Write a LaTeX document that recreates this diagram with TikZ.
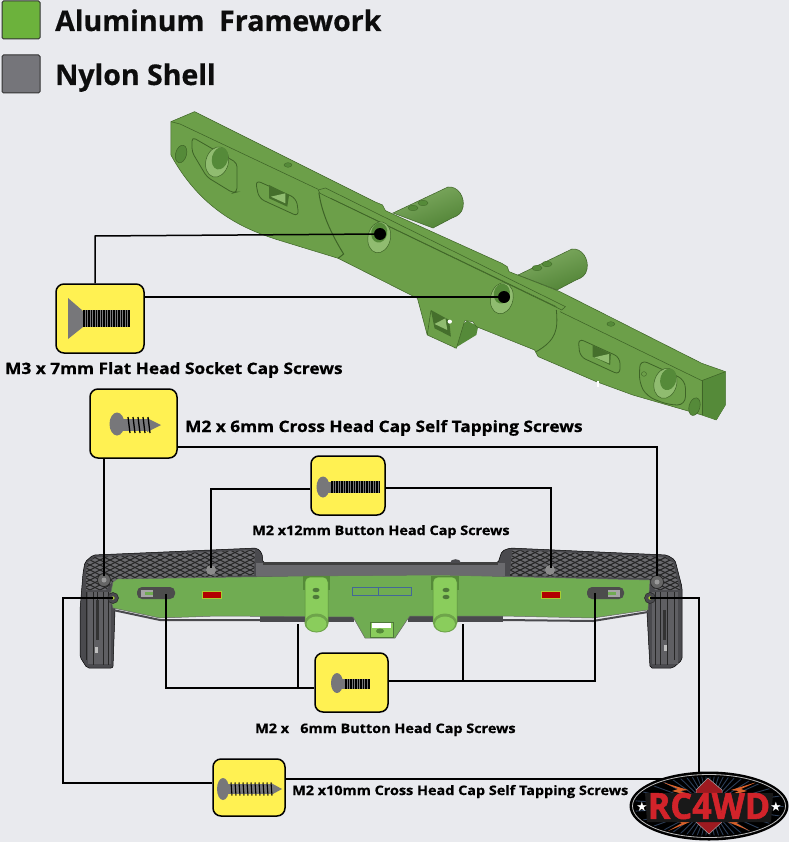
\documentclass[tikz,border=0pt]{standalone}
\usepackage{fontspec}
\setmainfont{Open Sans}
\newfontfamily\starfont{DejaVu Sans}
\newfontfamily\blk[BoldFeatures={FakeBold=0.7,FakeStretch=1.1}]{Open Sans}
\newfontfamily\blkt[BoldFeatures={FakeBold=0.5}]{Open Sans}
\newfontfamily\logofont[BoldFeatures={FakeBold=1.5,FakeStretch=0.95}]{Open Sans}
\definecolor{bg}{HTML}{E9EAEE}
\definecolor{legendgreen}{HTML}{6CB23C}
\definecolor{legendgray}{HTML}{75757A}
\definecolor{beam}{HTML}{6C9F49}
\definecolor{beamdark}{HTML}{558A39}
\definecolor{beamdeep}{HTML}{456F2C}
\definecolor{beamline}{HTML}{3E6427}
\definecolor{beamlight}{HTML}{90BC70}
\definecolor{bar}{HTML}{70AC52}
\definecolor{peg}{HTML}{8ACD5C}
\definecolor{shell}{HTML}{4A4A4E}
\definecolor{shellmid}{HTML}{6A6A6E}
\definecolor{tagfill}{HTML}{FFF152}
\definecolor{screwgray}{HTML}{77777A}
\definecolor{logored}{HTML}{D2232A}
\definecolor{bolt}{HTML}{D9622B}
\definecolor{ray}{HTML}{2C3E58}
\usetikzlibrary{calc}
\tikzset{
  tagbox/.style={draw=black,line width=1.5pt,fill=tagfill,rounded corners=8pt,inner sep=0pt,minimum width=#1},
  legendbox/.style={draw=black!80,line width=1pt,rounded corners=1.5pt,minimum width=38pt,minimum height=38pt,inner sep=0pt},
  lead/.style={draw=black,line width=1.5pt},
  title/.style={font=\fontsize{28.5}{30}\selectfont\blkt\bfseries,anchor=base west,inner sep=0pt,text=black!95},
  lab/.style={font=\fontsize{15.7}{17}\selectfont\blk\bfseries,anchor=base west,inner sep=0pt,text=black},
  labsmall/.style={font=\fontsize{13.1}{15}\selectfont\blk\bfseries,anchor=base west,inner sep=0pt,text=black},
  eline/.style={draw=beamline,line width=0.55pt},
  thread/.style={draw=black,line width=1.25pt},
  legline/.style={draw=black!85,line width=0.7pt},
  holeedge/.style={draw=beamline,line width=0.5pt},
  pegbody/.style={draw=beamline,line width=0.5pt,top color=beam!85!white,bottom color=beamdark!75!beamdeep,shading angle=20},
  hatchline/.style={draw=black!85,line width=1.1pt},
  boltfill/.style={fill=bolt}
}
\begin{document}
\begin{tikzpicture}[x=1pt,y=-1pt]
\useasboundingbox (0,0) rectangle (789,842);
\fill[bg] (0,0) rectangle (789,842);

% legend
\node[legendbox,fill=legendgreen] (lg1) at (21,20) {};
\node[legendbox,fill=legendgray] (lg2) at (21,74) {};
\node[title] (lt1) at (55,31) {Aluminum\ \ Framework};
\node[title] (lt2) at (55,85) {Nylon Shell};

% pegs of top beam
\path[pegbody] (393,213) -- (448,187) .. controls (458,186) and (465,197) .. (463,207) .. controls (462,213) and (458,216) .. (452,218) -- (433,228) -- cycle;
\path[pegbody] (518,275) -- (572,249) .. controls (582,248) and (589,259) .. (587,269) .. controls (586,275) and (582,278) .. (576,280) -- (557,290) -- cycle;
\fill[beamdark,draw=beamline,line width=0.3pt] (413,208) ellipse [x radius=5,y radius=2.8];
\fill[beamdark,draw=beamline,line width=0.3pt] (423,203) ellipse [x radius=5,y radius=2.8];
\fill[beamdark,draw=beamline,line width=0.3pt] (537,268) ellipse [x radius=5,y radius=2.8];
\fill[beamdark,draw=beamline,line width=0.3pt] (547,264) ellipse [x radius=5,y radius=2.8];

% top beam, in zoom coordinates
\begin{scope}[shift={(160,100)},x=0.3636pt,y=-0.3333pt]
  \fill[beamdark] (810,745) -- (870,705) -- (875,680) -- (845,662) -- (800,700) -- cycle;
  \path[fill=beam,draw=beamline,line width=0.5pt,line join=round]
    (30,65) -- (95,35) -- (590,305) -- (612,315) -- (620,332) -- (940,490) -- (955,500) -- (960,515)
    -- (1100,575) -- (1490,790) -- (1555,815) -- (1555,915) -- (1530,960) -- (1490,945) -- (1300,885)
    -- (1200,845) -- (1040,770) -- (1030,750) -- (870,680) -- (860,665) -- (838,662) -- (815,745)
    -- (735,705) -- (708,595) -- (490,475) -- (340,425)
    .. controls (250,395) and (120,345) .. (30,165) -- cycle;
  \fill[beamdark] (1490,842) -- (1555,815) -- (1555,915) -- (1530,960) -- (1490,945) -- cycle;
  \draw[eline] (1490,842) -- (1555,815);
  \draw[eline] (1490,842) -- (1490,945);
  \draw[eline] (30,65) -- (55,72) -- (435,268);
  \draw[eline] (435,270) -- (455,264) -- (1115,620) -- (1105,630) -- (440,280) -- (435,270);
  \draw[eline] (470,295) -- (1090,620);
  \draw[eline] (1100,635) -- (1490,842);
  \draw[eline,line width=1pt] (437,278) .. controls (445,340) and (470,400) .. (505,462) -- (490,475);
  \draw[eline,line width=0.8pt] (1090,630) .. controls (1095,690) and (1090,720) .. (1035,755);
  % left details
  \draw[eline,line width=0.8pt,rounded corners=4pt] (88,111) -- (212,189) -- (212,276) -- (201,279) -- (129,231) -- (88,156) -- cycle;
  \fill[beamlight,holeedge] (157,186) ellipse [x radius=31,y radius=46,rotate=-15];
  \fill[beamdark] (165,175) ellipse [x radius=22,y radius=34,rotate=-15];
  \fill[beamdark,holeedge] (58,162) ellipse [x radius=15,y radius=27,rotate=-15];
  \draw[eline,line width=0.8pt,rounded corners=6pt] (262,240) -- (375,295) -- (382,350) -- (272,295) -- cycle;
  \fill[beamdeep] (300,255) -- (355,285) -- (350,320) -- (300,295) -- cycle;
  \fill[beamlight] (305,290) -- (345,280) -- (345,310) -- cycle;
  \fill[beamdark,draw=beamline,line width=0.3pt] (352,195) ellipse [x radius=11,y radius=7];
  % middle holes
  \fill[beamlight,holeedge] (603,412) ellipse [x radius=31,y radius=47,rotate=-12];
  \fill[beamdark] (603,398) ellipse [x radius=22,y radius=30,rotate=-12];
  \fill[beamlight,holeedge] (940,595) ellipse [x radius=31,y radius=47,rotate=-12];
  \fill[beamdark] (940,581) ellipse [x radius=22,y radius=30,rotate=-12];
  % foot pocket
  \fill[beamdeep] (745,630) -- (795,660) -- (800,710) -- (755,685) -- cycle;
  \fill[beamlight] (755,672) -- (785,655) -- (790,690) -- cycle;
  \draw[eline] (745,632) -- (735,705);
  \fill[white] (797,665) circle (6);
  % right details
  \draw[eline,line width=0.8pt,rounded corners=6pt] (1150,715) -- (1265,772) -- (1265,825) -- (1155,770) -- cycle;
  \fill[beamdeep] (1190,735) -- (1240,762) -- (1238,795) -- (1190,770) -- cycle;
  \fill[beamlight] (1195,772) -- (1235,762) -- (1235,790) -- cycle;
  \draw[eline,line width=0.8pt,rounded corners=8pt] (1320,778) -- (1445,840) -- (1445,915) -- (1400,915) -- (1340,890) -- (1318,850) -- cycle;
  \fill[beamlight,holeedge] (1390,850) ellipse [x radius=31,y radius=46,rotate=-15];
  \fill[beamdark] (1398,838) ellipse [x radius=22,y radius=33,rotate=-15];
  \fill[beamdark,holeedge] (1470,920) ellipse [x radius=15,y radius=27,rotate=-15];
  \fill[beamdark,draw=beamline,line width=0.3pt] (1240,672) ellipse [x radius=11,y radius=7];
  \draw[beamline,line width=0.4pt] (1331,822) circle (7);
  \fill[white] (1203,843) rectangle (1207,862);
\end{scope}

% shell
\path[fill=shell,draw=black,line width=0.5pt,rounded corners=2pt]
  (83,573) -- (85,562) -- (93,555) -- (257,548) -- (262,553) -- (263,563) -- (498,563) -- (502,551)
  -- (510,548) -- (667,555) -- (675,560) -- (682,587) -- (682,660) -- (673,668) -- (650,668)
  -- (647,613) -- (650,590) -- (113,590) -- (115,610) -- (113,668) -- (87,668) -- (80,657) -- (80,610) -- cycle;
\begin{scope}
  \clip (86,573) -- (87,563) -- (95,557) -- (255,550) -- (254,575) -- (112,582) -- (106,590) -- (86,590) -- cycle;
  \fill[shellmid] (80,545) rectangle (260,595);
  \foreach \k in {-20,-10,...,380} {
    \draw[hatchline] (\k,590) -- (\k+100,540);
    \draw[hatchline] (\k-100,540) -- (\k,590);
  }
\end{scope}
\begin{scope}
  \clip (512,550) -- (665,557) -- (673,562) -- (680,590) -- (655,590) -- (648,578) -- (510,576) -- cycle;
  \fill[shellmid] (505,545) rectangle (685,595);
  \foreach \k in {420,430,...,800} {
    \draw[hatchline] (\k,590) -- (\k+100,540);
    \draw[hatchline] (\k-100,540) -- (\k,590);
  }
\end{scope}
\fill[shellmid] (256,563) rectangle (505,576);
\fill[black!75] (263,562) rectangle (498,564.5);
\fill[shell] (450,563) .. controls (450,558) and (461,558) .. (461,563) -- cycle;
% legs
\fill[shellmid!90!black] (88,592) rectangle (111,664);
\draw[legline] (86,592) -- (86,660) (93,592) -- (93,665) (97,592) -- (97,640) (103,592) -- (103,665) (108,592) -- (108,665);
\fill[black!80] (96,600) rectangle (99,640);
\fill[black!25] (95,647) rectangle (98,653);
\fill[shellmid!90!black] (652,592) rectangle (678,664);
\draw[legline] (655,592) -- (655,665) (660,592) -- (660,665) (667,592) -- (667,665) (674,592) -- (674,660);
\fill[black!80] (663,610) rectangle (666,640);
\fill[black!25] (664,645) rectangle (667,651);
% bosses
\fill[black!60,draw=black!85,line width=0.7pt] (104,580) circle (6.5);
\fill[black!40] (104,580) circle (2.5);
\fill[black!60,draw=black!85,line width=0.7pt] (657,582) circle (6.5);
\fill[black!40] (657,582) circle (2.5);
\fill[black!45] (211,570) circle (5);
\fill[black!45] (550,570) circle (5);

% lower strips
\fill[shell] (260,616) rectangle (354,622);
\fill[shell] (408,616) rectangle (503,622);
\draw[shell,line width=2pt] (113,610) -- (160,620) -- (217,620) -- (353,620);
\draw[shell,line width=2pt] (503,620) -- (593,621) -- (648,612);
% green bar
\path[fill=bar,draw=black!60,line width=0.5pt]
  (113,582) -- (117,579) -- (303,576) -- (440,575) -- (650,580) -- (648,610) -- (593,618) -- (503,616)
  -- (410,616) -- (407,620) -- (395,638) -- (365,638) -- (353,617) -- (217,616) -- (160,618) -- (113,608) -- (110,597) -- cycle;
% screw eyes
\fill[shell,draw=black!85,line width=0.5pt] (113,598) circle (5.5);
\fill[bar!60!yellow] (113,598) circle (1.8);
\fill[shell,draw=black!85,line width=0.5pt] (650,598) circle (5.5);
\fill[bar!60!yellow] (650,598) circle (1.8);
% centre mark
\draw[blue!40!bar,line width=0.6pt] (352,587) rectangle (411,595);
\draw[blue!40!bar,line width=0.6pt] (378,587) -- (378,595);
% foot
\fill[peg] (370,622) rectangle (393,637);
\fill[white] (372,622) rectangle (391,628);
\fill[beamdark] (380,631) ellipse [x radius=4,y radius=2.5];
\draw[bar!70!black,line width=0.5pt] (370,622) rectangle (393,637);
% pegs
\fill[beamdark] (303,576) rectangle (330,590);
\fill[beamdark] (431,576) rectangle (459,590);
\path[fill=peg,draw=beamdark,line width=0.5pt,rounded corners=5pt] (305,623) -- (305,577) -- (328,577) -- (328,623);
\fill[peg!80!black] (316.5,623) ellipse [x radius=12,y radius=9.5];
\fill[peg] (316.5,624) ellipse [x radius=10,y radius=7.5];
\fill[bar!70!black] (316,590) ellipse [x radius=3.5,y radius=2.2];
\fill[bar!70!black] (316,597) ellipse [x radius=3.5,y radius=2.2];
\path[fill=peg,draw=beamdark,line width=0.5pt,rounded corners=5pt] (433,623) -- (433,577) -- (457,577) -- (457,623);
\fill[peg!80!black] (445,623) ellipse [x radius=12,y radius=9.5];
\fill[peg] (445,624) ellipse [x radius=10,y radius=7.5];
\fill[bar!70!black] (446,590) ellipse [x radius=3.5,y radius=2.2];
\fill[bar!70!black] (446,597) ellipse [x radius=3.5,y radius=2.2];
% slots
\fill[black!70,rounded corners=5pt] (137,587) rectangle (175,599);
\fill[black!35] (141,590) rectangle (153,597);
\fill[bar] (145,592) rectangle (153,595);
\fill[black!70,rounded corners=5pt] (587,587) rectangle (624,599);
\fill[black!35] (608,590) rectangle (620,597);
\fill[bar] (608,592) rectangle (616,595);
% red
\fill[red!70!black,draw=bar!60!yellow,line width=0.5pt] (202,591) rectangle (221,598);
\fill[red!70!black,draw=bar!60!yellow,line width=0.5pt] (541,591) rectangle (560,598);

% target coordinates
\coordinate (h1) at (380,234);
\coordinate (h2) at (504,297);
\coordinate (j1) at (95,236);
\coordinate (s1) at (657,576);
\coordinate (s2) at (104,576);
\coordinate (s3) at (211,568);
\coordinate (s4) at (551,568);
\coordinate (s5) at (166,594);
\coordinate (s6) at (298,624);
\coordinate (s7) at (595,593);
\coordinate (s8) at (463,624);
\coordinate (s9) at (113,598);
\coordinate (s10) at (650,598);
\coordinate (c5) at (63,598);
\coordinate (c6) at (699,598);

% tags
\node[tagbox=88pt,minimum height=69pt] (tag1) at (100,318.5) {};
\node[tagbox=87pt,minimum height=69pt] (tag2) at (133.5,423.5) {};
\node[tagbox=74pt,minimum height=59pt] (tag3) at (348,485.5) {};
\node[tagbox=73pt,minimum height=59pt] (tag4) at (351.5,682.5) {};
\node[tagbox=72pt,minimum height=57pt] (tag5) at (249,787.5) {};

% connectors
\draw[lead] (tag1.north -| j1) -- (j1) -- (h1);
\draw[lead] (tag1.east |- h2) -- (h2);
\fill (h1) circle (6);
\fill (h2) circle (6);
\coordinate (k2) at (657,447);
\draw[lead] (tag2.east |- k2) -- (k2) -- (s1);
\draw[lead] (tag2.south -| s2) -- (s2);
\coordinate (k3) at (211,489);
\coordinate (k4) at (551,488);
\draw[lead] (tag3.west |- k3) -- (k3) -- (s3);
\draw[lead] (tag3.east |- k4) -- (k4) -- (s4);
\coordinate (k5) at (166,688);
\coordinate (k6) at (298,688);
\coordinate (k7) at (595,681);
\coordinate (k8) at (463,681);
\draw[lead] (tag4.west |- k5) -- (k5) -- (s5);
\draw[lead] (k6) -- (s6);
\draw[lead] (tag4.east |- k7) -- (k7) -- (s7);
\draw[lead] (k8) -- (s8);
\coordinate (k9) at (63,783);
\coordinate (k10) at (699,779);
\draw[lead] (tag5.west |- k9) -- (k9) -- (c5) -- (s9);
\draw[lead] (tag5.east |- k10) -- (k10) -- (c6) -- (s10);

% M3 flat head icon
\fill[screwgray] (68,298) -- (83,311) -- (83,327) -- (68,339) -- cycle;
\fill[black] (83,310) rectangle (130,327);
\foreach \k in {85,87.5,...,129} \draw[screwgray,line width=0.45pt] (\k,310) -- (\k,327);
% M2x6 self tapping icon
\fill[screwgray] (117,424) ellipse [x radius=7.5,y radius=11.5];
\fill[screwgray] (120,419) rectangle (148,431);
\fill[screwgray] (147,418) -- (161,425) -- (147,432) -- cycle;
\foreach \k in {128,133,...,148} \draw[thread] (\k,417) -- (\k+2,433);
% M2x12 icon
\fill[screwgray] (323,487) ellipse [x radius=6.5,y radius=10.5];
\fill[screwgray] (323,482) rectangle (333,493);
\fill[black] (331,481) rectangle (380,493);
\foreach \k in {333,335.5,...,379} \draw[screwgray,line width=0.45pt] (\k,481) -- (\k,493);
% M2x6 button icon
\fill[screwgray] (337,683) ellipse [x radius=6,y radius=10];
\fill[screwgray] (338,679) rectangle (346,689);
\fill[black] (345,679) rectangle (370,689);
\foreach \k in {347,349.5,...,369} \draw[screwgray,line width=0.45pt] (\k,679) -- (\k,689);
% M2x10 icon
\fill[screwgray] (223,789) ellipse [x radius=6,y radius=11];
\fill[screwgray] (225,784) rectangle (272,794);
\fill[screwgray] (271,783) -- (282,789) -- (271,795) -- cycle;
\foreach \k in {231,235,...,271} \draw[thread,line width=1.1pt] (\k,782.5) -- (\k+1,795.5);

% labels
\node[lab] (l1) at (5,374) {M3 x 7mm Flat Head Socket Cap Screws};
\node[lab] (l2) at (185,432) {M2 x 6mm Cross Head Cap Self Tapping Screws};
\node[labsmall] (l3) at (252,535) {M2 x12mm Button Head Cap Screws};
\node[labsmall] (l4) at (255,733) {M2 x\ \ \ 6mm Button Head Cap Screws};
\node[labsmall] (l5) at (292,795) {M2 x10mm Cross Head Cap Self Tapping Screws};

% logo
\fill[black] (709,806) ellipse [x radius=79.5,y radius=34.5];
\draw[black!25,line width=0.8pt] (709,806) ellipse [x radius=76.5,y radius=31.5];
\begin{scope}
  \clip (709,806) ellipse [x radius=74.5,y radius=29.5];
  \foreach \a in {0,8,...,352}
    \draw[ray,line width=0.9pt] (709,806) -- ++(\a:85);
  \path[boltfill] (662,782) -- (688,790) -- (680,791) -- (694,797) -- (672,791) -- (678,789) -- cycle;
  \path[boltfill] (757,782) -- (731,790) -- (739,791) -- (725,797) -- (747,791) -- (741,789) -- cycle;
  \path[boltfill] (668,831) -- (690,822) -- (682,821) -- (696,815) -- (676,821) -- (682,823) -- cycle;
  \path[boltfill] (750,831) -- (728,822) -- (736,821) -- (722,815) -- (742,821) -- (736,823) -- cycle;
\end{scope}
\path[fill=logored!75!black,draw=black!35,line width=0.5pt] (708,778) -- (722,790) -- (722,822) -- (709,834) -- (696,822) -- (696,790) -- cycle;
\fill[black!90] (645,793) -- (773,793) -- (771,822) -- (647,822) -- cycle;
\node[inner sep=0pt,text=logored,font=\fontsize{36}{36}\selectfont\logofont\bfseries] (logo) at (709,806) {RC4WD};
\node[inner sep=0pt,text=white,font=\fontsize{13}{13}\selectfont\starfont] (st1) at (642,807) {★};
\node[inner sep=0pt,text=white,font=\fontsize{13}{13}\selectfont\starfont] (st2) at (776,807) {★};
\end{tikzpicture}
\end{document}
